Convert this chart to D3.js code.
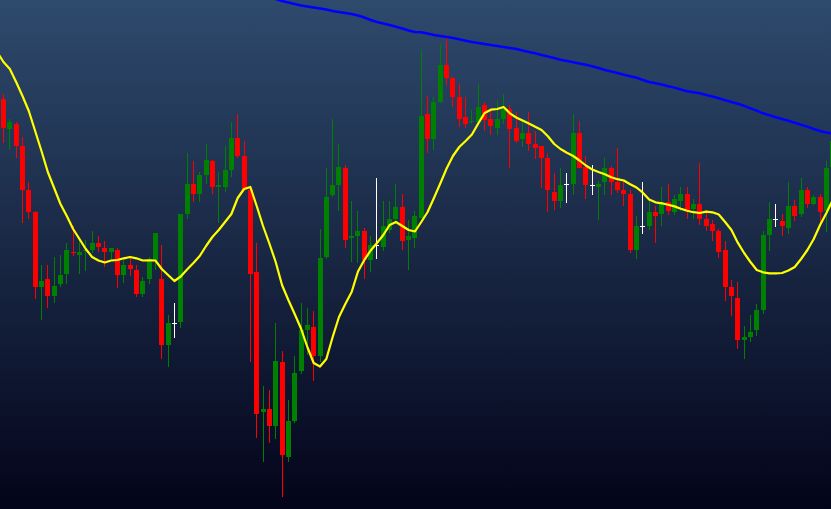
<!DOCTYPE html>
<html>
<head>
<meta charset="utf-8">
<script src="https://cdn.jsdelivr.net/npm/d3@7"></script>
<style>
  html, body { margin: 0; padding: 0; background: #03041a; overflow: hidden; }
  svg { display: block; }
</style>
</head>
<body>
<script>
// candlestick chart with two moving averages, no axes

const svgWidth = 831;
const svgHeight = 509;

// candles are numbered by day, 1..132 (the last one is cut by the right edge)
const opens = [
  410, 380.3, 385, 363, 319, 297, 222.3, 230, 213.3, 225.3,
  235.3, 257.3, 254.3, 257.7, 259.3, 266, 261, 257, 259, 234,
  244, 239, 215, 230.3, 249, 230, 164, 186, 187, 295.3,
  325, 315.3, 334, 348, 322.3, 322.3, 339.3, 371, 353, 319,
  237, 97.3, 100.3, 83.3, 147, 52, 88.3, 138.3, 179, 182,
  153.3, 252.3, 314, 324, 341, 271.3, 273.3, 278, 249.3, 263.7,
  262.3, 279, 290, 302, 269.3, 271.3, 291.3, 395, 370.3, 407.3,
  444, 431.3, 412.3, 392, 387.3, 387, 404, 390, 381.3, 390,
  400, 381, 370, 376, 365, 363, 351, 317, 308.3, 324.7,
  325.3, 376, 342.3, 324, 322.3, 327.3, 341.3, 327.3, 319.3, 315.3,
  259.3, 283.3, 283.3, 297, 295.3, 307, 297.3, 308.3, 315, 300.3,
  305, 290.3, 285.3, 278.3, 259, 222, 211, 169.3, 172.3, 179.3,
  199.3, 274.3, 290.3, 288.3, 281.3, 303, 295.3, 319, 305.3, 312,
  298.3, 342
];
const highs = [
  415, 390, 387.3, 372.3, 326.7, 297.7, 243.7, 243.7, 251.7, 253.7,
  265.7, 283, 269.7, 269, 277.7, 272.7, 268, 261, 261, 249,
  250.7, 243.7, 231.7, 251.7, 276, 263.7, 193.7, 206, 295, 355.7,
  347.7, 337, 364.7, 349, 337, 362.7, 386.7, 394.7, 367.7, 321,
  265.7, 123, 119, 186, 157.7, 108.7, 152.7, 205.7, 200.7, 197.7,
  279.7, 341.3, 389.7, 365, 344, 308, 298, 281, 273, 331,
  308, 308, 325, 315, 289, 298, 459, 413.3, 412.3, 465,
  471.3, 432.3, 425.3, 412.3, 399, 425, 407.3, 398, 409, 415,
  404, 397, 388, 397.3, 378.3, 363, 355.7, 335.7, 340.7, 335.7,
  395, 388, 353, 343.7, 328.3, 350.7, 343.3, 361, 328.3, 319.3,
  293.3, 327, 309.3, 303.3, 322.3, 324.7, 314, 322, 322, 310,
  345.7, 299.3, 289, 280.3, 268.3, 229, 227, 183.3, 193.7, 204.7,
  278.3, 307, 305, 295.3, 326.7, 309.3, 330.7, 322.3, 314.3, 315,
  348, 379
];
const lows = [
  366, 359, 350.7, 285.7, 289.7, 210, 189, 200.7, 205.7, 222.3,
  224.7, 253.3, 234.7, 238.3, 255.7, 256.7, 241.7, 249, 221.3, 226.3,
  233.3, 212.3, 212.3, 224.7, 239, 149.7, 142.3, 171.3, 181.3, 290.3,
  306.7, 307.3, 325, 314.7, 285.7, 316.7, 331.7, 350.7, 319, 146.7,
  70.7, 46.7, 65.7, 70, 12.3, 46.7, 86.3, 134.7, 154, 127.7,
  147.3, 250.3, 312.3, 298, 260.7, 247, 246, 230, 237, 250.3,
  258.3, 275.7, 285.3, 259, 239, 260.7, 291.3, 355.7, 358.7, 405.7,
  424, 402.3, 382.3, 381.3, 385.3, 387, 377.7, 374.3, 374.3, 385,
  341.3, 365.7, 362.3, 357.7, 350.3, 321.3, 297.3, 299.3, 301.3, 306.3,
  314.3, 341.3, 310.3, 314.3, 289.3, 314.3, 314.3, 316.3, 303.3, 256.3,
  250.3, 275.3, 279.3, 266.3, 283.3, 294.3, 294.3, 298.3, 290.3, 290.3,
  284.3, 278.3, 268, 251.3, 208.3, 192.7, 159.7, 149.7, 166.7, 173.3,
  195.3, 258.3, 282.3, 273.3, 275.3, 288.3, 292.3, 301.3, 304.3, 287.3,
  277.3, 339
];
const closes = [
  381.3, 387.3, 363.3, 319.3, 297.3, 222.3, 228, 213.3, 223, 234,
  259, 256.3, 257, 258.7, 266, 262, 257, 261, 234, 244,
  240, 215, 228, 250, 276, 164, 186, 186, 295, 325,
  315.3, 334, 349, 322.3, 324, 339, 371, 353.3, 319, 235.3,
  95.3, 100.3, 83.3, 148, 54.3, 88.3, 136, 179, 184, 153.3,
  251, 312, 324, 342, 269.3, 273.3, 278, 249.3, 264, 263.7,
  283, 290, 302, 268.3, 273.3, 293.3, 393, 370.3, 407, 444,
  431.3, 412.3, 390.3, 385.3, 388, 402, 389, 383, 390, 400,
  380, 368.3, 376, 365.3, 361.3, 351.3, 319.3, 308.3, 324, 324.7,
  376, 341.3, 324.3, 324, 325.3, 341.3, 327.3, 319.3, 315.3, 259.3,
  283.3, 283.3, 297, 293.3, 307, 298.3, 310, 315, 299.3, 305,
  290.3, 283.3, 278.3, 257.3, 222.3, 213.3, 169.3, 172.3, 177.3, 199.3,
  274.3, 290.3, 290.3, 283.3, 303, 293.3, 319, 305.3, 312, 297.3,
  341, 368
];

// short moving average (yellow), from day 0 (just off the left edge) to day 132
const fastMA = [
  457, 447, 440, 427, 413, 398, 378, 358, 337, 321,
  305, 293, 280, 270, 260, 252, 248.5, 246.5, 248.5, 249,
  250.7, 252, 250.7, 248.5, 248.7, 248.5, 240, 234, 228, 232.5,
  239.5, 246, 253, 263, 272, 279, 287, 295, 311, 320,
  322, 303, 283, 265.5, 247, 224, 209, 195, 180.5, 162,
  146, 142.5, 150, 172, 192, 205, 217, 237.5, 249, 258.5,
  266, 274, 284, 287, 283, 279, 277.5, 287, 297, 311,
  325.5, 340.5, 353, 362, 368, 374.5, 385.5, 396, 399.3, 400,
  402, 395.7, 391.5, 388.5, 385.4, 382.2, 379, 372.7, 365, 360,
  356.3, 353, 348.5, 343.5, 339.5, 337, 334.7, 331.7, 329.8, 328.5,
  324.7, 321.5, 316.3, 309.5, 306.7, 305.7, 304.3, 302.6, 300.3, 298.2,
  296.8, 296, 297.3, 296.7, 294.5, 287, 279, 266.3, 256, 247,
  239, 236.7, 235.7, 235.7, 236, 238.5, 242, 250, 259, 270,
  284, 296, 309
];

// long moving average (blue), from day 43 to day 132
const slowStart = 43;
const slowMA = [
  512, 510, 508, 506.5, 505, 503.5, 502.5, 501.5, 500.5, 499.5,
  498, 497, 496, 495, 493.5, 491.5, 489, 487, 485.5, 484,
  482.3, 480.5, 478.5, 477, 476.7, 475.5, 474, 473, 472, 471,
  469.7, 468.3, 467, 466, 465, 464, 463, 462, 461, 460,
  458.5, 457, 455.7, 454, 452.5, 451, 449.2, 448, 446.7, 445.5,
  444.2, 442.8, 441, 439, 437.5, 436, 434.2, 432.8, 431.3, 429,
  427, 425.8, 424.5, 422.7, 421.4, 419.5, 417.8, 416.7, 415.7, 414,
  412.5, 410.7, 408.8, 407, 405.2, 403.2, 400.7, 398.3, 395.7, 393.7,
  391.8, 390, 388.2, 386.2, 384.2, 382.4, 380, 378, 376.5, 375.5
];

const candles = opens.map((o, i) => ({
  day: i + 1, open: o, high: highs[i], low: lows[i], close: closes[i]
}));
const fastData = fastMA.map((v, i) => ({ day: i, value: v }));
const slowData = slowMA.map((v, i) => ({ day: slowStart + i, value: v }));

const svg = d3.select("body")
  .append("svg")
  .attr("width", svgWidth)
  .attr("height", svgHeight);

// background gradient
const grad = svg.append("defs").append("linearGradient")
  .attr("id", "bg")
  .attr("x1", 0).attr("y1", 0).attr("x2", 0).attr("y2", 1);
grad.append("stop").attr("offset", "0%").attr("stop-color", "#2e4a6d");
grad.append("stop").attr("offset", "100%").attr("stop-color", "#03041a");

svg.append("rect")
  .attr("width", svgWidth)
  .attr("height", svgHeight)
  .attr("fill", "url(#bg)");

const step = 6.33;
const xScale = d3.scaleLinear()
  .domain([1, 132])
  .range([3.5, 3.5 + step * 131]);

const yScale = d3.scaleLinear()
  .domain([0, 509])
  .range([svgHeight, 0]);

const bodyWidth = 5;

function candleColor(d) {
  if (d.close > d.open) return "#008000";
  if (d.close < d.open) return "#ff0000";
  return "#ffffff";
}

const g = svg.append("g").attr("shape-rendering", "crispEdges");

// wicks
g.selectAll("line.wick")
  .data(candles)
  .enter()
  .append("line")
  .attr("class", "wick")
  .attr("x1", d => Math.floor(xScale(d.day)) + 0.5)
  .attr("x2", d => Math.floor(xScale(d.day)) + 0.5)
  .attr("y1", d => yScale(d.high))
  .attr("y2", d => yScale(d.low))
  .attr("stroke", candleColor)
  .attr("stroke-width", 1);

// bodies
g.selectAll("rect.body")
  .data(candles)
  .enter()
  .append("rect")
  .attr("class", "body")
  .attr("x", d => Math.floor(xScale(d.day)) - 2)
  .attr("y", d => yScale(Math.max(d.open, d.close)))
  .attr("width", bodyWidth)
  .attr("height", d => Math.max(1, Math.abs(yScale(d.open) - yScale(d.close))))
  .attr("fill", candleColor);

const line = d3.line()
  .x(d => xScale(d.day))
  .y(d => yScale(d.value));

svg.append("path")
  .datum(fastData)
  .attr("d", line)
  .attr("fill", "none")
  .attr("stroke", "#ffff00")
  .attr("stroke-width", 2.2)
  .attr("stroke-linejoin", "round");

svg.append("path")
  .datum(slowData)
  .attr("d", line)
  .attr("fill", "none")
  .attr("stroke", "#0000ff")
  .attr("stroke-width", 2.5)
  .attr("stroke-linejoin", "round");
</script>
</body>
</html>
